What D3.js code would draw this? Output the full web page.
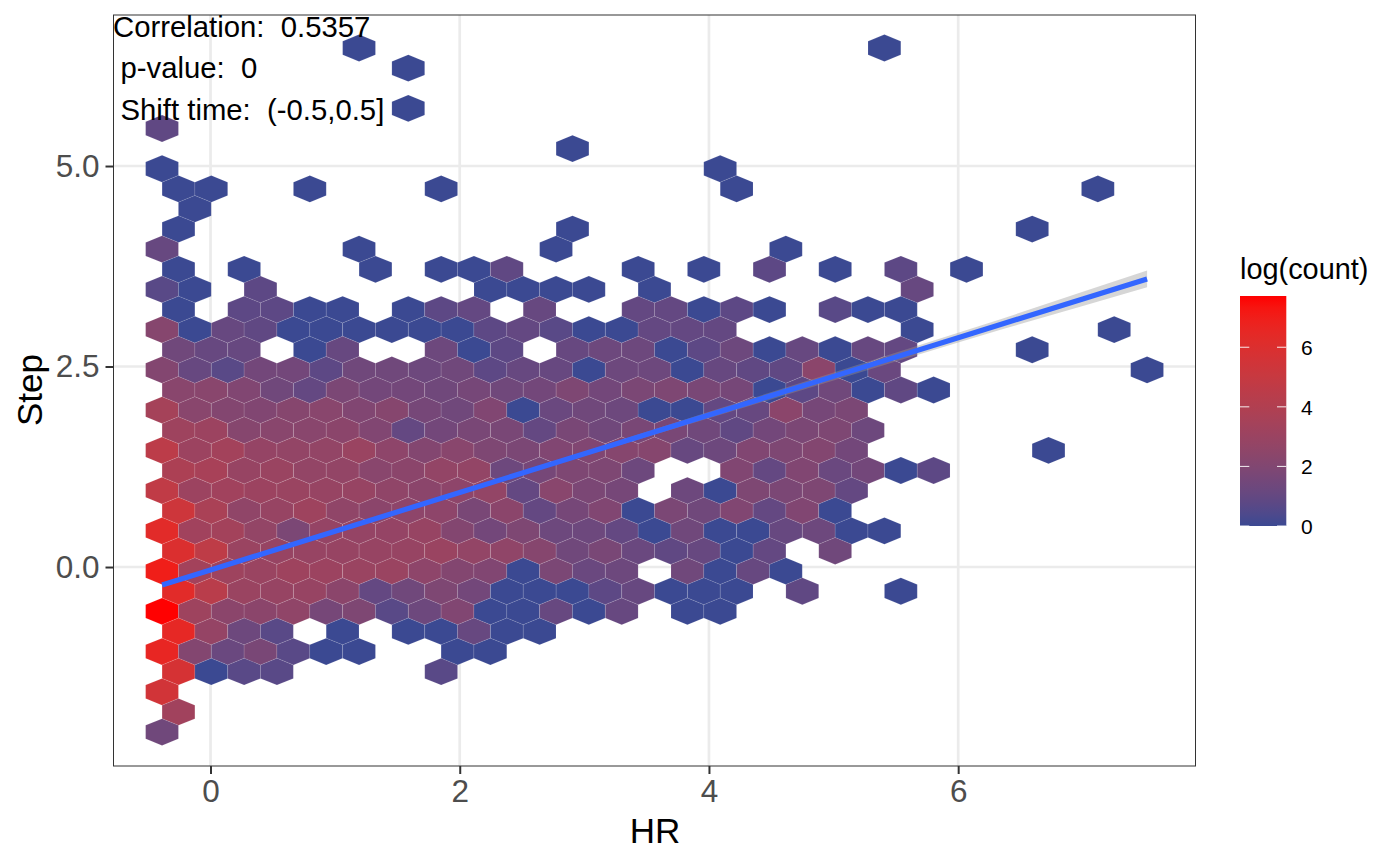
<!DOCTYPE html>
<html><head><meta charset="utf-8">
<script src="https://cdnjs.cloudflare.com/ajax/libs/d3/7.8.5/d3.min.js"></script>
<style>html,body{margin:0;padding:0;background:#fff}svg{display:block}text{font-family:"Liberation Sans",Arial,sans-serif;white-space:pre}</style>
</head><body><svg id="c" width="1400" height="866"></svg>
<script>
// HR centre of each hexagon column
const hrBins=[-0.389,-0.257,-0.126,0.006,0.138,0.270,0.401,0.533,0.665,0.797,0.928,1.060,1.192,1.324,1.455,1.587,1.719,1.851,1.982,2.114,2.246,2.378,2.509,2.641,2.773,2.905,3.036,3.168,3.300,3.432,3.563,3.695,3.827,3.959,4.090,4.222,4.354,4.486,4.617,4.749,4.881,5.013,5.144,5.276,5.408,5.540,5.671,5.803,5.935,6.067,6.198,6.330,6.462,6.594,6.725,6.857,6.989,7.121,7.252,7.384,7.516];
// Step centre of each hexagon row
const stepBins=[6.471,6.220,5.970,5.719,5.468,5.217,4.966,4.715,4.465,4.214,3.963,3.712,3.461,3.210,2.960,2.709,2.458,2.207,1.956,1.705,1.454,1.204,0.953,0.702,0.451,0.200,-0.051,-0.302,-0.553,-0.803,-1.054,-1.305,-1.556,-1.807,-2.058];
// per row: [column index, log(count)]
const logCounts=[
[[12,0],[44,0]],
[[15,0]],
[],
[[15,0]],
[[0,.9]],
[[25,0]],
[[0,0],[34,0]],
[[1,0],[3,0],[9,0],[17,0],[35,0],[57,0]],
[[2,0]],
[[1,0],[25,0],[53,0]],
[[0,1.1],[12,0],[24,0],[38,0]],
[[1,0],[5,0],[13,0],[17,0],[19,0],[21,.9],[29,0],[33,0],[37,.8],[41,0],[45,.8],[49,0]],
[[0,.7],[2,0],[6,.8],[20,0],[22,0],[24,0],[26,0],[30,0],[46,1.1]],
[[1,0],[5,.8],[7,.8],[9,0],[11,0],[15,0],[17,.8],[19,1.0],[23,1.1],[29,1.0],[31,1.0],[33,0],[35,.8],[37,0],[41,.7],[43,0],[45,0]],
[[0,2.2],[2,0],[4,1.1],[6,.9],[8,0],[10,0],[12,0],[14,0],[16,0],[18,0],[20,.8],[22,1.0],[24,.7],[26,0],[28,0],[30,1.0],[32,1.0],[34,1.0],[46,0],[58,0]],
[[1,1.4],[3,1.1],[5,1.1],[9,0],[11,1.1],[17,1.3],[19,0],[21,.8],[25,1.1],[27,1.3],[29,1.3],[31,0],[33,.8],[35,1.3],[37,0],[39,1.1],[41,0],[43,1.1],[45,1.0],[53,0]],
[[0,2.1],[2,1.1],[4,.7],[6,1.5],[8,1.5],[10,.8],[12,1.4],[14,1.4],[16,1.3],[18,1.4],[20,.8],[22,1.1],[24,1.1],[26,0],[28,1.3],[30,1.3],[32,0],[34,1.1],[36,.9],[38,.9],[40,2.4],[42,0],[44,1.2],[60,0]],
[[1,2.3],[3,2.3],[5,2.0],[7,1.4],[9,1.0],[11,1.8],[13,1.5],[15,1.5],[17,1.4],[19,1.6],[21,1.4],[23,1.5],[25,1.9],[27,1.5],[29,1.8],[31,1.9],[33,1.7],[35,1.6],[37,0],[39,.8],[41,1.4],[43,0],[45,.9],[47,0]],
[[0,3.5],[2,2.3],[4,2.1],[6,2.0],[8,2.2],[10,2.3],[12,2.0],[14,2.2],[16,1.6],[18,1.4],[20,2.0],[22,0],[24,1.2],[26,1.4],[28,1.3],[30,0],[32,0],[34,1.0],[36,1.1],[38,2.4],[40,1.6],[42,1.8]],
[[1,3.2],[3,3.1],[5,2.2],[7,2.3],[9,2.3],[11,2.4],[13,2.0],[15,1.0],[17,1.5],[19,1.7],[21,1.7],[23,1.0],[25,1.7],[27,1.4],[29,1.7],[31,1.7],[33,1.4],[35,.9],[37,1.5],[39,1.8],[41,1.9],[43,1.3]],
[[0,4.5],[2,3.1],[4,3.4],[6,2.8],[8,2.7],[10,2.7],[12,3.0],[14,2.5],[16,2.1],[18,2.3],[20,1.9],[22,1.8],[24,2.0],[26,2.0],[28,2.2],[30,2.2],[32,1.1],[34,1.3],[36,2.0],[38,1.9],[40,2.1],[42,1.5],[54,0]],
[[1,3.8],[3,3.6],[5,2.9],[7,3.0],[9,2.7],[11,2.7],[13,2.3],[15,2.4],[17,2.7],[19,2.7],[21,1.3],[23,1.6],[25,1.9],[27,1.9],[29,1.3],[35,2.0],[37,1.0],[39,2.0],[41,1.2],[43,1.5],[45,0],[47,.8]],
[[0,4.7],[2,3.1],[4,3.3],[6,3.1],[8,3.0],[10,2.9],[12,2.9],[14,2.6],[16,2.4],[18,2.5],[20,2.7],[22,1.0],[24,2.3],[26,1.8],[28,1.6],[32,1.3],[34,0],[36,1.9],[38,1.8],[40,1.9],[42,1.0]],
[[1,5.3],[3,3.7],[5,2.6],[7,2.9],[9,3.2],[11,2.6],[13,2.4],[15,2.5],[17,2.5],[19,1.7],[21,2.4],[23,1.0],[25,1.6],[27,2.0],[29,0],[31,1.8],[33,1.4],[35,2.0],[37,1.0],[39,2.0],[41,0]],
[[0,6.3],[2,3.3],[4,3.4],[6,2.7],[8,1.8],[10,2.8],[12,2.8],[14,2.8],[16,2.9],[18,2.1],[20,1.5],[22,1.9],[24,1.3],[26,1.3],[28,1.0],[30,0],[32,1.4],[34,0],[36,0],[38,1.1],[40,1.3],[42,0],[44,0]],
[[1,6.0],[3,4.6],[5,3.0],[7,2.9],[9,2.9],[11,2.9],[13,2.9],[15,2.9],[17,3.0],[19,2.7],[21,2.6],[23,2.2],[25,1.4],[27,1.7],[29,1.2],[31,.9],[33,1.1],[35,0],[37,1.0],[41,1.4]],
[[0,7.0],[2,3.4],[4,3.2],[6,3.0],[8,3.2],[10,3.1],[12,3.0],[14,3.0],[16,2.5],[18,2.1],[20,2.0],[22,0],[24,1.8],[26,1.2],[28,1.3],[32,1.4],[34,0],[36,1.1],[38,0]],
[[1,6.3],[3,4.4],[5,3.0],[7,2.9],[9,2.9],[11,2.4],[13,1.0],[15,1.4],[17,1.9],[19,1.5],[21,0],[23,0],[25,0],[27,.8],[29,1.1],[31,0],[33,0],[35,0],[39,.9],[45,0]],
[[0,7.7],[2,3.2],[4,2.4],[6,2.4],[8,2.6],[10,1.6],[12,1.9],[14,.7],[16,1.3],[18,2.0],[20,0],[22,0],[24,1.1],[26,0],[28,1.1],[32,0],[34,0]],
[[1,6.5],[3,2.8],[5,1.3],[7,.7],[11,0],[15,0],[17,0],[19,1.1],[21,0],[23,0]],
[[0,6.6],[2,2.1],[4,1.2],[6,1.7],[8,.7],[10,0],[12,0],[18,0],[20,0]],
[[1,5.7],[3,0],[5,.7],[7,.7],[17,.7]],
[[0,5.5]],
[[1,3.3]],
[[0,1.4]]
];
// fitted line with confidence band
const fitHR=[-0.389,0,1,2,3,4,5,6,6.34,7,7.516];
const fitStep=[-0.224,-0.036,0.446,0.929,1.412,1.895,2.377,2.860,3.024,3.343,3.592];
const fitHalfBand=[0.027,0.021,0.009,0.012,0.026,0.040,0.050,0.060,0.066,0.088,0.105];
const hrTicks=[0,2,4,6];
const stepTicks=[0,2.5,5];
const legendTicks=[0,2,4,6];
const noteLines=["Correlation:  0.5357","p-value:  0","Shift time:  (-0.5,0.5]"];

const P={l:113.5,r:1195.5,t:15,b:766};
const x=d3.scaleLinear().domain([-0.7785,7.9045]).range([P.l,P.r]);
const y=d3.scaleLinear().domain([-2.481,6.883]).range([P.b,P.t]);
const color=d3.scaleLinear().domain([0,7.72]).range(["#3B4992","#FF0000"]).interpolate(d3.interpolateLab);
const svg=d3.select("#c");

const grid=svg.append("g");
grid.selectAll(".v").data(hrTicks).join("line").attr("x1",d=>x(d)).attr("x2",d=>x(d)).attr("y1",P.t).attr("y2",P.b);
grid.selectAll(".h").data(stepTicks).join("line").attr("y1",d=>y(d)).attr("y2",d=>y(d)).attr("x1",P.l).attr("x2",P.r);
grid.selectAll("line").attr("stroke","#EBEBEB").attr("stroke-width",2.7);

const halfW=(hrBins[2]-hrBins[0])/2, halfH=(stepBins[0]-stepBins[1])*2/3;
const cells=[];
logCounts.forEach((row,r)=>row.forEach(([c,v])=>cells.push({hr:hrBins[c],step:stepBins[r],v})));
const hexPath=d=>d3.line()([
 [x(d.hr),y(d.step+halfH)],[x(d.hr+halfW),y(d.step+halfH/2)],[x(d.hr+halfW),y(d.step-halfH/2)],
 [x(d.hr),y(d.step-halfH)],[x(d.hr-halfW),y(d.step-halfH/2)],[x(d.hr-halfW),y(d.step+halfH/2)]])+"Z";
svg.append("g").selectAll("path").data(cells).join("path").attr("d",hexPath)
 .attr("fill",d=>color(d.v)).attr("stroke","#fff").attr("stroke-opacity",.18).attr("stroke-width",.5);

const fit=fitHR.map((h,i)=>({h,s:fitStep[i],e:fitHalfBand[i]}));
svg.append("path").datum(fit).attr("d",d3.area().x(d=>x(d.h)).y0(d=>y(d.s-d.e)).y1(d=>y(d.s+d.e)))
 .attr("fill","#999").attr("fill-opacity",.4);
svg.append("path").datum(fit).attr("d",d3.line().x(d=>x(d.h)).y(d=>y(d.s)))
 .attr("fill","none").attr("stroke","#3366FF").attr("stroke-width",5.2);

svg.append("rect").attr("x",P.l).attr("y",P.t).attr("width",P.r-P.l).attr("height",P.b-P.t)
 .attr("fill","none").attr("stroke","#333").attr("stroke-width",1);

const ax=svg.append("g").attr("transform",`translate(0,${P.b})`).call(d3.axisBottom(x).tickValues(hrTicks).tickSize(8).tickPadding(6).tickFormat(d3.format("d")));
const ay=svg.append("g").attr("transform",`translate(${P.l},0)`).call(d3.axisLeft(y).tickValues(stepTicks).tickSize(8).tickPadding(6).tickFormat(d3.format(".1f")));
[ax,ay].forEach(a=>{a.select(".domain").remove();
 a.selectAll("line").attr("stroke","#333").attr("stroke-width",2);
 a.selectAll("text").attr("fill","#4D4D4D").attr("font-size",31.5).attr("font-family","Liberation Sans");});

svg.append("text").attr("x",655).attr("y",843).attr("text-anchor","middle").attr("font-size",35).text("HR");
svg.append("text").attr("transform","translate(42,390) rotate(-90)").attr("text-anchor","middle").attr("font-size",35).text("Step");

[[113,36.5],[120.5,78],[120.5,120]].forEach(([tx,ty],i)=>
 svg.append("text").attr("x",tx).attr("y",ty).attr("font-size",29.3).attr("fill","#000").text(noteLines[i]));

// legend
const ly=d3.scaleLinear().domain([0,7.72]).range([526,296]);
const defs=svg.append("defs").append("linearGradient").attr("id","g").attr("x1",0).attr("x2",0).attr("y1",1).attr("y2",0);
defs.selectAll("stop").data(d3.range(0,7.72001,0.386)).join("stop").attr("offset",d=>d/7.72).attr("stop-color",d=>color(d));
svg.append("rect").attr("x",1240).attr("y",296).attr("width",46.3).attr("height",230).attr("fill","url(#g)");
const lg=svg.append("g");
legendTicks.forEach(t=>{
 lg.append("line").attr("x1",1240).attr("x2",1249.3).attr("y1",ly(t)).attr("y2",ly(t));
 lg.append("line").attr("x1",1277).attr("x2",1286.3).attr("y1",ly(t)).attr("y2",ly(t));
 svg.append("text").attr("x",1301).attr("y",ly(t)+8).attr("font-size",21).attr("fill","#000").text(t);
});
lg.selectAll("line").attr("stroke","#fff").attr("stroke-opacity",.9).attr("stroke-width",1);
svg.append("text").attr("x",1240).attr("y",278.5).attr("font-size",28.9).attr("fill","#000").text("log(count)");
</script></body></html>
